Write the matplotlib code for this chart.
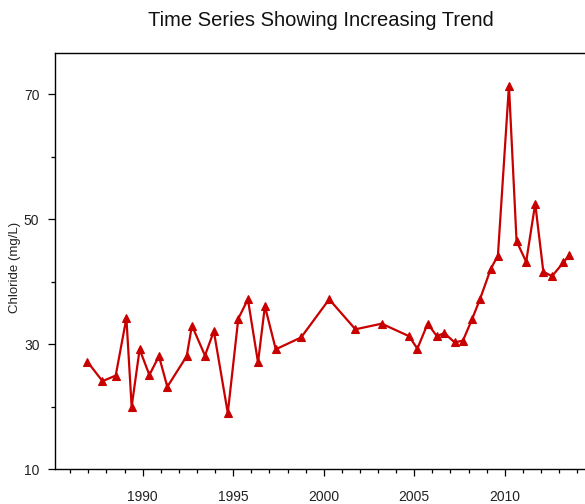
import numpy as np
import matplotlib
matplotlib.use("Agg")
import matplotlib.pyplot as plt
from matplotlib.ticker import MultipleLocator

plt.rcParams['font.family'] = ['Liberation Sans', 'DejaVu Sans']

# sample dates (decimal years) and chloride concentrations
years = [1986.95, 1987.78, 1988.51, 1989.10, 1989.39, 1989.83, 1990.37, 1990.90,
         1991.36, 1992.43, 1992.72, 1993.44, 1993.93, 1994.70, 1995.28, 1995.81,
         1996.37, 1996.75, 1997.35, 1998.75, 2000.30, 2001.75, 2003.20, 2004.71,
         2005.17, 2005.74, 2006.25, 2006.66, 2007.23, 2007.69, 2008.19, 2008.64,
         2009.23, 2009.62, 2010.23, 2010.65, 2011.18, 2011.68, 2012.13, 2012.61,
         2013.24, 2013.57]
chloride = [27.2, 24.1, 25.0, 34.2, 20.0, 29.2, 25.1, 28.1,
            23.2, 28.1, 33.0, 28.2, 32.1, 19.0, 34.1, 37.2,
            27.1, 36.1, 29.2, 31.1, 37.2, 32.4, 33.3, 31.3,
            29.3, 33.3, 31.3, 31.8, 30.3, 30.6, 34.0, 37.3,
            42.1, 44.2, 71.4, 46.5, 43.2, 52.5, 41.6, 40.9,
            43.1, 44.3]

title = "Time Series Showing Increasing Trend"
ylabel = "Chloride (mg/L)"

fig = plt.figure(figsize=(5.85, 5.04), dpi=100)
W, H = 585, 504
left, bottom, top = 54.7, 469.3, 53
ax = fig.add_axes([left / W, (H - bottom) / H, 1 - left / W, (bottom - top) / H])

ax.plot(years, chloride, color='#c80000', lw=1.6, marker='^', ms=5.5,
        markeredgewidth=0.8, clip_on=False)

ax.set_xlim(1985.14, 2014.43)
ax.set_ylim(10, 10 + (bottom - top) / 6.25)

ax.xaxis.set_major_locator(MultipleLocator(5))
ax.xaxis.set_minor_locator(MultipleLocator(1))
ax.yaxis.set_major_locator(MultipleLocator(20))
ax.yaxis.set_minor_locator(MultipleLocator(10))
ax.set_yticks([10, 30, 50, 70])

ax.tick_params(axis='both', which='major', direction='out', length=5, width=0.9,
               labelsize=10, labelcolor='#222222')
ax.tick_params(axis='both', which='minor', direction='out', length=3, width=0.9)
ax.tick_params(axis='x', which='major', pad=10)
ax.tick_params(axis='y', which='major', pad=6)

ax.spines['right'].set_visible(False)
for s in ['left', 'top', 'bottom']:
    ax.spines[s].set_linewidth(1.0)

fig.text(321 / W, 1 - 20 / H, title, ha='center', va='center', fontsize=14.5,
         color='#111111')
fig.text(15 / W, 1 - 267 / H, ylabel, ha='center', va='center', rotation=90,
         fontsize=9.5, color='#222222')

fig.savefig('out.png', dpi=100)
